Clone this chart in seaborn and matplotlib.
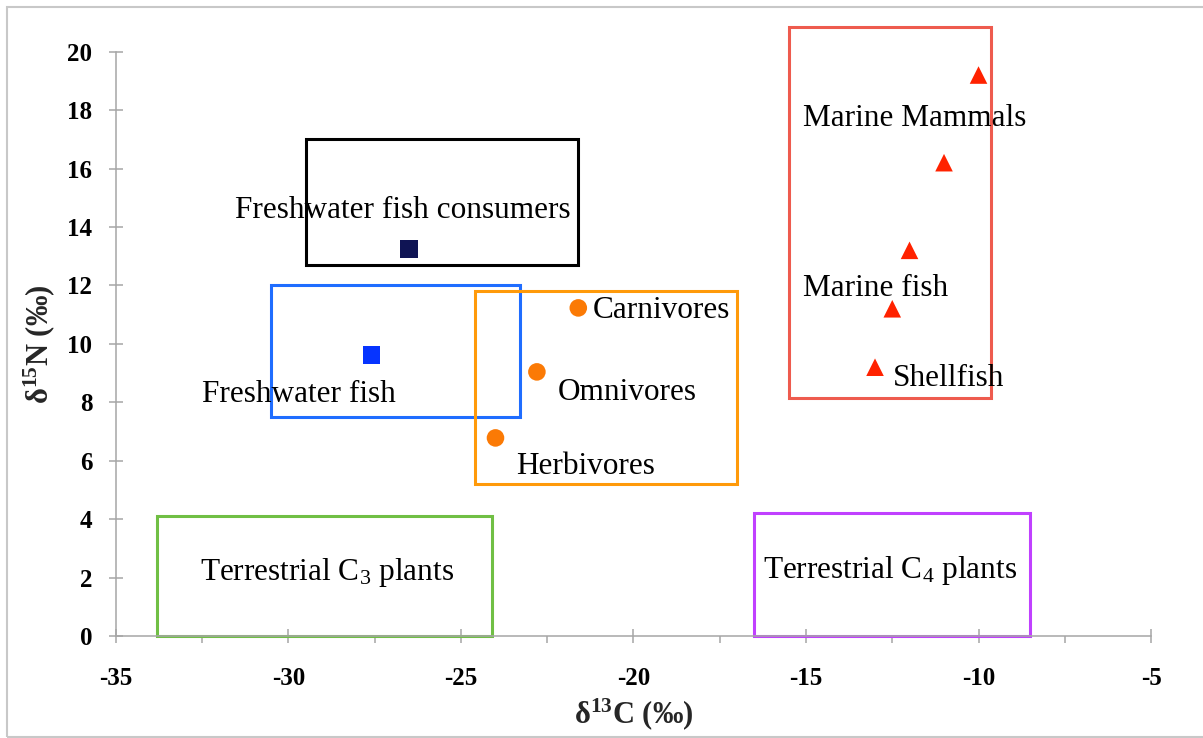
import matplotlib.pyplot as plt
from matplotlib.patches import Rectangle
import numpy as np
import pandas as pd
import seaborn as sns

# point data (d13C, d15N)
groups = ["consumers", "freshwater", "terrestrial", "terrestrial", "terrestrial",
          "marine", "marine", "marine", "marine", "marine"]
d13c = [-26.5, -27.6, -21.6, -22.8, -24.0, -10.0, -11.0, -12.0, -12.5, -13.0]
d15n = [13.25, 9.62, 11.23, 9.04, 6.78, 19.2, 16.2, 13.2, 11.2, 9.2]

# boxes: (x0, y0, x1, y1)
box_names = ["consumers", "freshwater", "omnivory", "marine", "c3", "c4"]
box_x0 = [-29.5, -30.5, -24.6, -15.5, -33.8, -16.5]
box_y0 = [12.7, 7.5, 5.2, 8.15, 0.0, 0.0]
box_x1 = [-21.6, -23.3, -17.0, -9.65, -24.1, -8.5]
box_y1 = [17.0, 12.0, 11.8, 20.85, 4.1, 4.2]

# text labels (left edge, baseline)
labels = ["Freshwater fish consumers", "Freshwater fish", "Carnivores", "Omnivores",
          "Herbivores", "Marine Mammals", "Marine fish", "Shellfish",
          "Terrestrial C$_3$ plants", "Terrestrial C$_4$ plants"]
label_x = [-31.55, -32.52, -21.17, -22.2, -23.39, -15.08, -15.08, -12.47, -32.57, -16.24]
label_y = [14.3, 8.02, 10.88, 8.08, 5.54, 17.47, 11.64, 8.54, 1.92, 1.98]

sns.set_theme(style="ticks")
plt.rcParams["font.family"] = ["Liberation Serif", "DejaVu Serif"]
plt.rcParams["mathtext.default"] = "regular"
plt.rcParams["axes.unicode_minus"] = False

fig = plt.figure(figsize=(12.03, 7.38), dpi=100)
ax = fig.add_axes([0.0964, 0.1382, 0.8604, 0.7918])

df = pd.DataFrame({"d13c": d13c, "d15n": d15n, "group": groups})
palette = {"consumers": "#0f1454", "freshwater": "#0634ff",
           "terrestrial": "#fb7a05", "marine": "#ff2200"}
markers = {"consumers": "s", "freshwater": "s", "terrestrial": "o", "marine": "^"}
sns.scatterplot(data=df, x="d13c", y="d15n", hue="group", style="group",
                palette=palette, markers=markers, s=160, linewidth=0,
                legend=False, ax=ax, zorder=3)

box_colors = {"consumers": "black", "freshwater": "#1f6dff", "omnivory": "#ff9a0a",
              "marine": "#ee5b4e", "c3": "#70bf44", "c4": "#c040ff"}
for name, x0, y0, x1, y1 in zip(box_names, box_x0, box_y0, box_x1, box_y1):
    ax.add_patch(Rectangle((x0, y0), x1 - x0, y1 - y0, fill=False,
                           edgecolor=box_colors[name], linewidth=2.2,
                           clip_on=False, zorder=2))

for txt, x, y in zip(labels, label_x, label_y):
    ax.text(x, y, txt, fontsize=22.5, va="baseline", ha="left", color="black", zorder=4)

ax.set_xlim(-35, -5)
ax.set_ylim(0, 20)
ax.set_xticks(np.arange(-35, -4, 5))
ax.set_xticks(np.arange(-32.5, -5, 5), minor=True)
ax.set_yticks(np.arange(0, 21, 2))
sns.despine(ax=ax)
for side in ["left", "bottom"]:
    ax.spines[side].set_color("#a6a6a6")
    ax.spines[side].set_linewidth(1.1)

ax.tick_params(axis="both", which="major", direction="inout", length=10, width=1.1,
               color="#a6a6a6", labelsize=18, labelcolor="black")
ax.tick_params(axis="y", which="major", pad=12)
ax.tick_params(axis="x", which="major", pad=17)
ax.tick_params(axis="x", which="minor", direction="out", length=5, width=1.1,
               color="#a6a6a6")
for lbl in ax.get_xticklabels() + ax.get_yticklabels():
    lbl.set_fontweight("bold")

ax.set_xlabel("δ$^{13}$C (‰)", fontsize=22, fontweight="bold")
ax.set_ylabel("δ$^{15}$N (‰)", fontsize=22, fontweight="bold")
ax.xaxis.set_label_coords(0.5, -0.103)
ax.yaxis.set_label_coords(-0.057, 0.5)

# light frame around the figure
fig.add_artist(Rectangle((7 / 1203, 1.5 / 738), 1.05, 729.5 / 738, fill=False,
                         edgecolor="#c8c8c8", linewidth=1.5,
                         transform=fig.transFigure, clip_on=False))

fig.savefig("out.png", dpi=100)
